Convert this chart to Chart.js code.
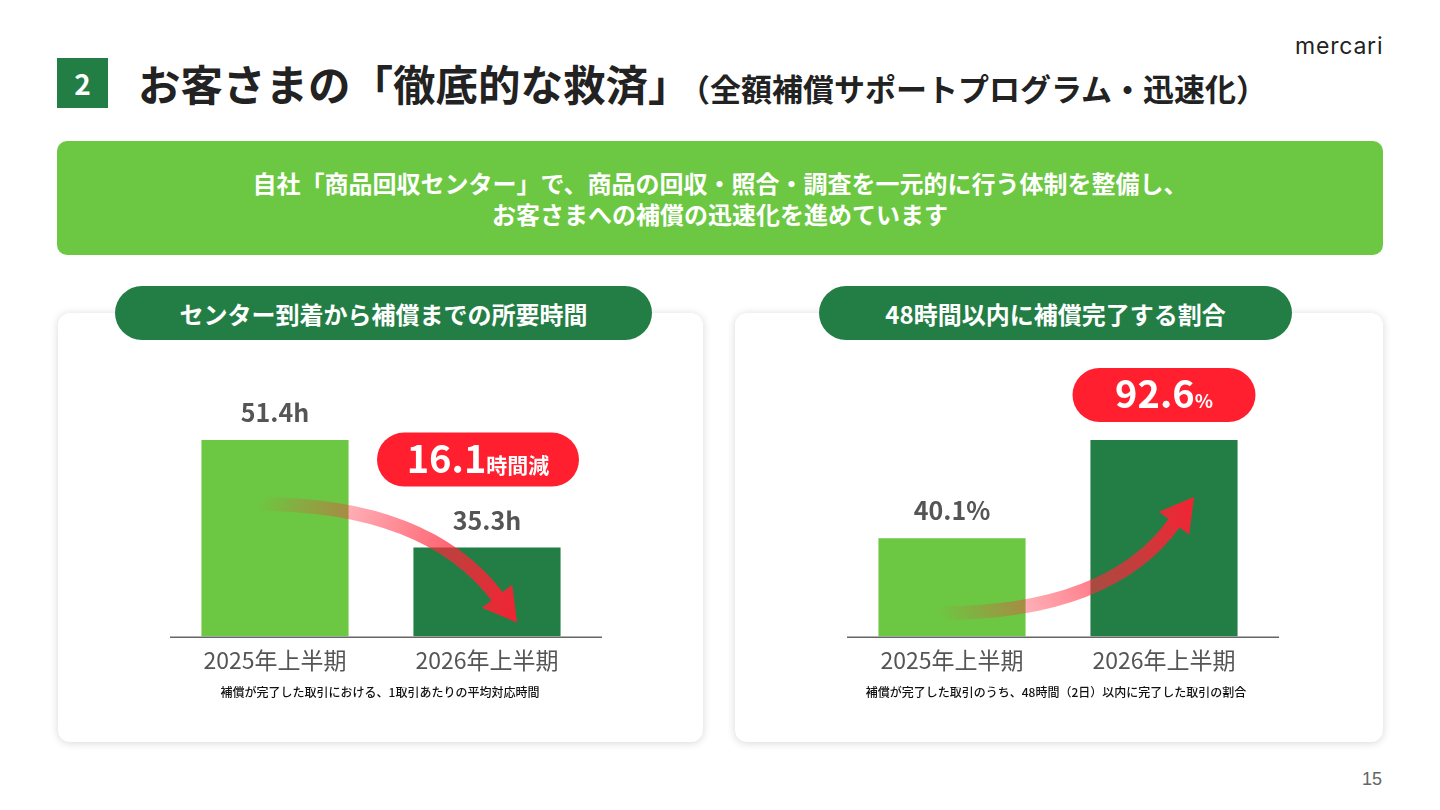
<!DOCTYPE html>
<html lang="ja">
<head>
<meta charset="utf-8">
<title>お客さまの「徹底的な救済」</title>
<script src="https://cdn.jsdelivr.net/npm/chart.js@4.4.1/dist/chart.umd.min.js"></script>
<style>
  html, body { margin: 0; padding: 0; }
  body {
    width: 1440px; height: 810px; position: relative; overflow: hidden;
    background: #fff; font-family: "Noto Sans CJK JP", "Noto Sans", sans-serif; color: #222;
  }
  .num-box {
    position: absolute; left: 57px; top: 58px; width: 51px; height: 50px;
    background: #237e45; color: #fff; font-weight: 700; font-size: 28px;
    display: flex; align-items: center; justify-content: center;
  }
  .title {
    position: absolute; left: 138px; top: 53px; white-space: nowrap;
    font-size: 42.5px; font-weight: 700; color: #222; line-height: 60px;
  }
  .title small { font-size: 31px; font-weight: 700; margin-left: 4px; }
  .logo {
    position: absolute; left: 1295px; top: 32px; font-family: "Inter", sans-serif;
    font-size: 23px; font-weight: 400; color: #222; letter-spacing: 0.8px;
  }
  .banner {
    position: absolute; left: 57px; top: 141px; width: 1326px; height: 114px;
    background: #6cc842; border-radius: 10px; color: #fff; font-weight: 700;
    font-size: 24px; line-height: 31px; text-align: center;
    display: flex; flex-direction: column; justify-content: center;
  }
  .card {
    position: absolute; top: 313px; height: 429px; background: #fff;
    border-radius: 12px; box-shadow: 0 1px 8px rgba(0,0,0,0.16);
  }
  .pill {
    position: absolute; top: 286px; height: 54px; background: #237e45; color: #fff;
    border-radius: 27px; font-weight: 700; font-size: 24px;
    display: flex; align-items: center; justify-content: center; white-space: nowrap;
  }
  .chart-box { position: absolute; top: 340px; width: 470px; height: 360px; }
  .note {
    position: absolute; top: 683px; width: 500px; text-align: center;
    font-size: 12px; font-weight: 500; color: #111; white-space: nowrap;
  }
  .page { position: absolute; left: 1362px; top: 769px; font-family: "Liberation Sans", sans-serif; font-size: 18px; color: #666; }
</style>
</head>
<body>
  <div class="num-box">2</div>
  <div class="title">お客さまの「徹底的な救済」<small>（全額補償サポートプログラム・迅速化）</small></div>
  <div class="logo">mercari</div>

  <div class="banner">
    <div>自社「商品回収センター」で、商品の回収・照合・調査を一元的に行う体制を整備し、</div>
    <div>お客さまへの補償の迅速化を進めています</div>
  </div>

  <div class="card" style="left:58px; width:645px;"></div>
  <div class="card" style="left:735px; width:648px;"></div>

  <div class="pill" style="left:115px; width:537px;">センター到着から補償までの所要時間</div>
  <div class="pill" style="left:819px; width:473px;">48時間以内に補償完了する割合</div>

  <div class="chart-box" style="left:150px;"><canvas id="hoursChart" width="470" height="360"></canvas></div>
  <div class="chart-box" style="left:827px;"><canvas id="shareChart" width="470" height="360"></canvas></div>

  <div class="note" style="left:130px;">補償が完了した取引における、1取引あたりの平均対応時間</div>
  <div class="note" style="left:806px;">補償が完了した取引のうち、48時間（2日）以内に完了した取引の割合</div>

  <div class="page">15</div>

<script>
// data
const categories = ['2025年上半期', '2026年上半期'];
const hoursValues = [51.4, 35.3];
const shareValues = [40.1, 92.6];
const hoursLabels = ['51.4h', '35.3h'];
const shareLabels = ['40.1%', ''];
const barColors = ['#6cc842', '#237e45'];

// the slide's axes are cropped, not zero based
const hoursAxis = { min: 22, max: 60.4 };
const shareAxis = { min: -12.4, max: 124.7 };

const FONT = '"Noto Sans CJK JP", "Noto Sans", sans-serif';
const RED = '#ff1f2f';

function drawPill(ctx, cx, cy, w, h, parts) {
    ctx.save();
    ctx.fillStyle = RED;
    ctx.beginPath();
    ctx.roundRect(cx - w / 2, cy - h / 2, w, h, h / 2);
    ctx.fill();
    let total = 0;
    parts.forEach(function(p) {
        ctx.font = '700 ' + p.size + 'px ' + FONT;
        p.w = ctx.measureText(p.text).width;
        total += p.w;
    });
    let x = cx - total / 2;
    ctx.fillStyle = '#fff';
    ctx.textBaseline = 'alphabetic';
    ctx.textAlign = 'left';
    parts.forEach(function(p) {
        ctx.font = '700 ' + p.size + 'px ' + FONT;
        ctx.fillText(p.text, x, cy + 13);
        x += p.w;
    });
    ctx.restore();
}

function drawArrow(ctx, s, c, e, tip) {
    const dx = tip.x - e.x, dy = tip.y - e.y;
    const len = Math.sqrt(dx * dx + dy * dy);
    const nx = -dy / len, ny = dx / len;
    const grad = ctx.createLinearGradient(s.x, s.y, tip.x, tip.y);
    grad.addColorStop(0, 'rgba(255,40,60,0)');
    grad.addColorStop(0.3, 'rgba(255,50,70,0.4)');
    grad.addColorStop(0.6, 'rgba(255,40,60,0.65)');
    grad.addColorStop(1, 'rgba(255,30,50,0.95)');
    ctx.save();
    ctx.strokeStyle = grad;
    ctx.fillStyle = grad;
    ctx.lineWidth = 14;
    ctx.lineCap = 'butt';
    ctx.beginPath();
    ctx.moveTo(s.x, s.y);
    ctx.quadraticCurveTo(c.x, c.y, e.x, e.y);
    ctx.stroke();
    ctx.beginPath();
    ctx.moveTo(tip.x, tip.y);
    ctx.lineTo(e.x + nx * 19 - dx * 0.05, e.y + ny * 19 - dy * 0.05);
    ctx.lineTo(e.x - nx * 19 - dx * 0.05, e.y - ny * 19 - dy * 0.05);
    ctx.closePath();
    ctx.fill();
    ctx.restore();
}

const barDecor = {
    id: 'barDecor',
    afterDatasetsDraw(chart, args, opts) {
        const ctx = chart.ctx;
        const area = chart.chartArea;
        const bars = chart.getDatasetMeta(0).data;
        const base = area.bottom;
        const b1 = bars[0], b2 = bars[1];

        // baseline, a little wider than the plot on the right as on the slide
        ctx.save();
        ctx.strokeStyle = '#666';
        ctx.lineWidth = 1.5;
        ctx.beginPath();
        ctx.moveTo(area.left + 1, base + 0.75);
        ctx.lineTo(area.right + 9, base + 0.75);
        ctx.stroke();
        ctx.restore();

        // curved arrow from first bar to second
        if (opts.down) {
            drawArrow(ctx,
                { x: b1.x - 17, y: b1.y + 64 },
                { x: b2.x - 60, y: b1.y + 64 },
                { x: b2.x + 11, y: base - 39 },
                { x: b2.x + 30, y: base - 14 });
        } else {
            drawArrow(ctx,
                { x: b1.x - 14, y: base - 23 },
                { x: b2.x - 54, y: base - 23 },
                { x: b2.x + 11, y: b2.y + 82 },
                { x: b2.x + 30, y: b2.y + 57 });
        }

        // value labels
        ctx.save();
        ctx.fillStyle = '#555';
        ctx.font = '700 25px ' + FONT;
        ctx.textAlign = 'center';
        ctx.textBaseline = 'alphabetic';
        opts.labels.forEach(function(t, i) {
            if (t) ctx.fillText(t, bars[i].x, bars[i].y - 18);
        });
        ctx.restore();

        // red badge
        const bd = opts.badge;
        drawPill(ctx, b2.x + bd.dx, b2.y + bd.dy, bd.w, 54, bd.parts);
    }
};

function makeChart(id, values, axis, decor) {
    return new Chart(document.getElementById(id), {
        type: 'bar',
        data: {
            labels: categories,
            datasets: [{
                data: values,
                backgroundColor: barColors,
                borderWidth: 0,
                base: axis.min,
                categoryPercentage: 1,
                barPercentage: 0.694
            }]
        },
        options: {
            responsive: false,
            animation: false,
            layout: { padding: { left: 19, right: 27, top: 40, bottom: 16 } },
            plugins: {
                legend: { display: false },
                tooltip: { enabled: false },
                barDecor: decor
            },
            scales: {
                x: {
                    grid: { display: false, drawTicks: false },
                    border: { display: false },
                    ticks: { color: '#555', padding: 10, font: { family: FONT, size: 23, weight: '400' } }
                },
                y: { display: false, min: axis.min, max: axis.max }
            }
        },
        plugins: [barDecor]
    });
}

makeChart('hoursChart', hoursValues, hoursAxis, {
    down: true,
    labels: hoursLabels,
    badge: { dx: -9, dy: -88, w: 202, parts: [{ text: '16.1', size: 38 }, { text: '時間減', size: 21 }] }
});

makeChart('shareChart', shareValues, shareAxis, {
    down: false,
    labels: shareLabels,
    badge: { dx: 0, dy: -45, w: 183, parts: [{ text: '92.6', size: 38 }, { text: '%', size: 19 }] }
});
</script>
</body>
</html>
